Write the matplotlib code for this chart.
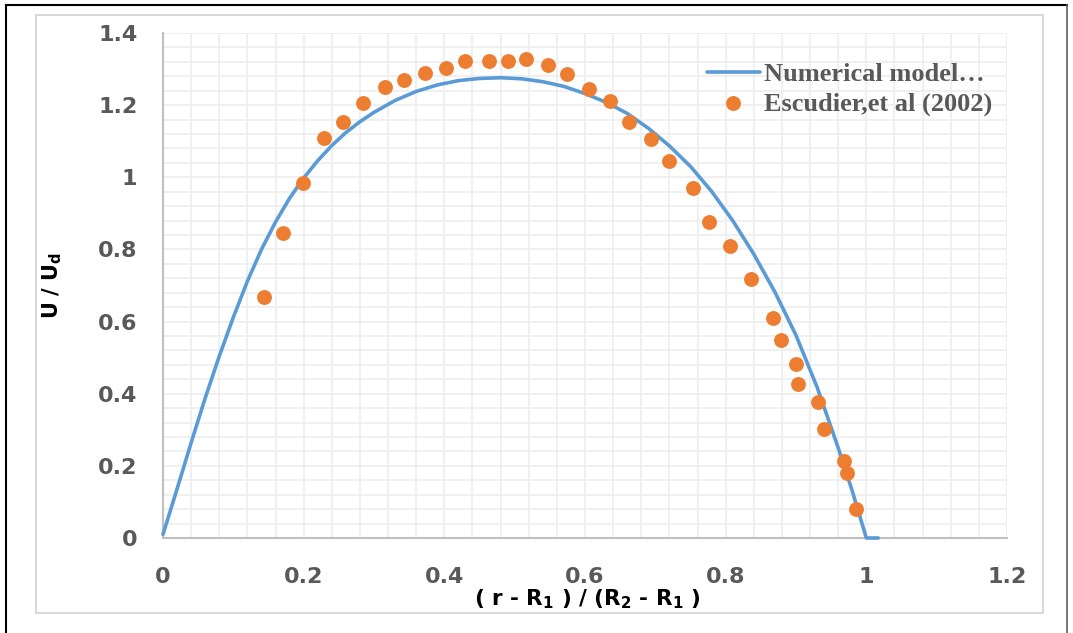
import matplotlib
matplotlib.use("Agg")
import matplotlib.pyplot as plt
from matplotlib.lines import Line2D
import numpy as np

# numerical model profile
model_x = [0.0, 0.02, 0.04, 0.06, 0.08, 0.10, 0.12, 0.14, 0.16, 0.18,
           0.20, 0.22, 0.24, 0.26, 0.28, 0.30, 0.33, 0.36, 0.39, 0.42,
           0.45, 0.48, 0.51, 0.54, 0.57, 0.60, 0.63, 0.66, 0.69, 0.72,
           0.75, 0.78, 0.81, 0.84, 0.87, 0.90, 0.93, 0.96, 0.98, 1.0, 1.017]
model_y = [0.01, 0.136, 0.264, 0.388, 0.504, 0.612, 0.712, 0.800, 0.876, 0.942,
           0.998, 1.046, 1.088, 1.124, 1.154, 1.180, 1.213, 1.238, 1.256, 1.268,
           1.274, 1.276, 1.273, 1.265, 1.252, 1.232, 1.208, 1.177, 1.136, 1.087,
           1.030, 0.961, 0.880, 0.787, 0.682, 0.562, 0.418, 0.250, 0.130, 0.0, 0.0]

# Escudier et al (2002) experimental points
exp_x = [0.143, 0.170, 0.199, 0.229, 0.256, 0.285, 0.316, 0.343, 0.373, 0.403,
         0.429, 0.464, 0.490, 0.516, 0.547, 0.574, 0.606, 0.636, 0.662, 0.694,
         0.719, 0.753, 0.777, 0.806, 0.836, 0.868, 0.878, 0.900, 0.903, 0.931,
         0.940, 0.968, 0.972, 0.986]
exp_y = [0.669, 0.845, 0.985, 1.108, 1.154, 1.205, 1.251, 1.270, 1.288, 1.302,
         1.323, 1.323, 1.323, 1.327, 1.310, 1.286, 1.245, 1.212, 1.152, 1.106,
         1.045, 0.971, 0.877, 0.810, 0.719, 0.609, 0.549, 0.482, 0.428, 0.377,
         0.301, 0.214, 0.181, 0.080]

x_ticks = [0, 0.2, 0.4, 0.6, 0.8, 1, 1.2]
y_ticks = [0, 0.2, 0.4, 0.6, 0.8, 1, 1.2, 1.4]

blue = '#5B9BD5'
orange = '#ED7D31'
grey_txt = '#595959'

fig = plt.figure(figsize=(10.73, 6.33), dpi=100)
W, H = 1073, 633

# outer frame and chart area border
fig.add_artist(Line2D([6 / W, 6 / W], [0, 1 - 5 / H], color='black', lw=1.5))
fig.add_artist(Line2D([6 / W, 1067 / W], [1 - 5 / H, 1 - 5 / H], color='black', lw=1.5))
fig.add_artist(Line2D([1067 / W, 1067 / W], [0, 1 - 5 / H], color='#606060', lw=1.2))
fig.add_artist(plt.Rectangle((36 / W, 1 - 613 / H), (1043 - 36) / W, (613 - 15) / H,
                             fill=False, ec='#D9D9D9', lw=1.5))

ax = fig.add_axes([163 / W, 1 - 538 / H, (1007 - 163) / W, (538 - 33) / H])
ax.set_xlim(0, 1.2)
ax.set_ylim(0, 1.4)

ax.set_xticks(x_ticks)
ax.set_xticklabels(['0', '0.2', '0.4', '0.6', '0.8', '1', '1.2'])
ax.set_yticks(y_ticks)
ax.set_yticklabels(['0', '0.2', '0.4', '0.6', '0.8', '1', '1.2', '1.4'])
ax.set_xticks(np.arange(0, 1.2001, 0.04), minor=True)
ax.set_yticks(np.arange(0, 1.4001, 0.04), minor=True)
ax.grid(which='both', color='#EEEEEE', lw=1.2)
ax.set_axisbelow(True)
ax.tick_params(which='both', length=0)
ax.tick_params(axis='x', pad=21, labelsize=16, labelcolor=grey_txt)
ax.tick_params(axis='y', pad=18.5, labelsize=16, labelcolor=grey_txt)
for lab in ax.get_xticklabels() + ax.get_yticklabels():
    lab.set_fontweight('bold')
    lab.set_family('DejaVu Sans')

for s in ['top', 'right']:
    ax.spines[s].set_visible(False)
for s in ['left', 'bottom']:
    ax.spines[s].set_color('#BFBFBF')
    ax.spines[s].set_linewidth(1.5)

ax.plot(model_x, model_y, color=blue, lw=2.6, solid_capstyle='round',
        solid_joinstyle='round', label='Numerical model\u2026', clip_on=False, zorder=3)
ax.scatter(exp_x, exp_y, s=115, color=orange, lw=0,
           label='Escudier,et al (2002)', zorder=4)

plt.rcParams['mathtext.fontset'] = 'dejavusans'
ax.set_ylabel(r'$\mathbf{U\ /\ U_d}$', fontsize=15, color='black')
ax.yaxis.set_label_coords(-0.117, 0.5)
ax.set_xlabel(r'( r - R$_\mathbf{1}$ ) / (R$_\mathbf{2}$ - R$_\mathbf{1}$ )', fontsize=15.5,
              fontweight='bold', family='DejaVu Sans', color='black', va='center')
ax.xaxis.set_label_coords(0.503, -0.121)

leg = ax.legend(loc='upper left', bbox_to_anchor=((707 - 163) / 844, (538 - 63) / 505),
                frameon=False, borderpad=0, borderaxespad=0, handlelength=2.0,
                handletextpad=0.15, labelspacing=0.2,
                prop={'family': 'Liberation Serif', 'weight': 'bold', 'size': 19})
for t in leg.get_texts():
    t.set_color(grey_txt)

fig.savefig('out.png', dpi=100)
